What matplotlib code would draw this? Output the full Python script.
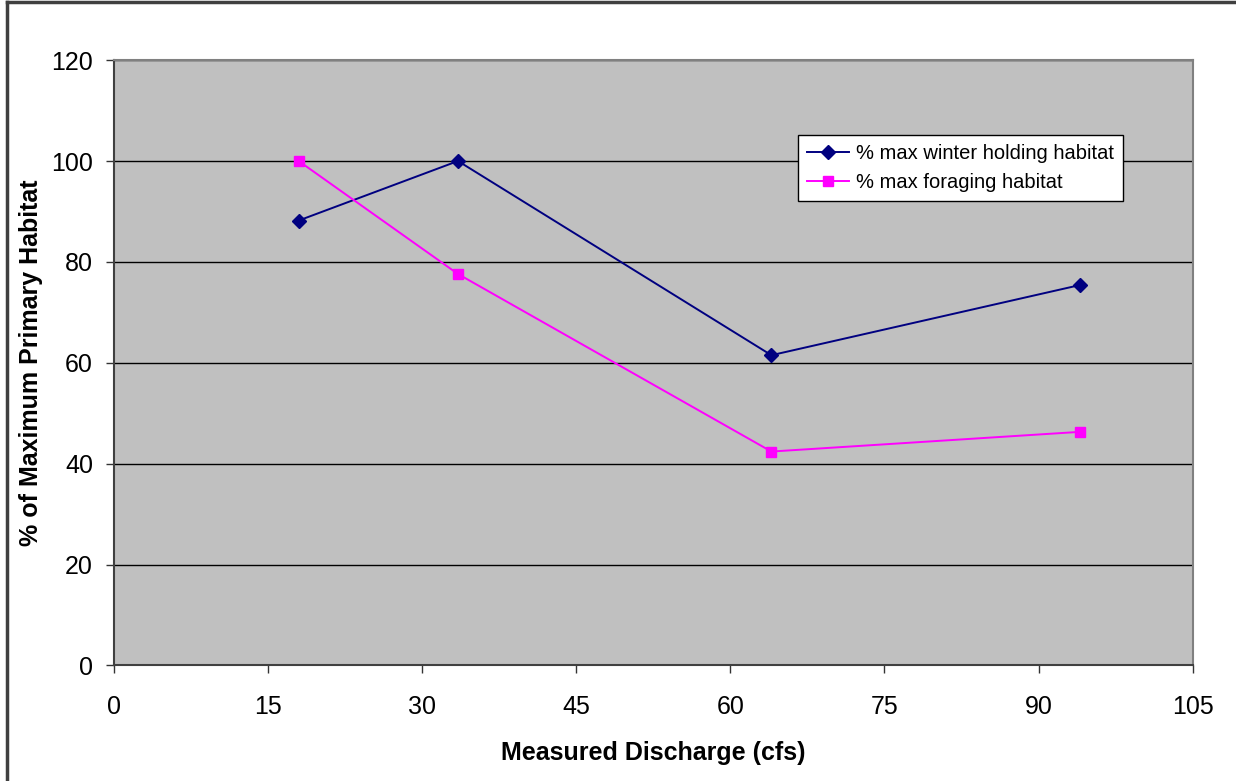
import matplotlib
matplotlib.use("Agg")
import matplotlib.pyplot as plt
from matplotlib.lines import Line2D

plt.rcParams['font.family'] = ['Liberation Sans', 'DejaVu Sans']

# Measured discharge (cfs) and habitat percentages
discharge = [18, 33.5, 64, 94]
winter_holding = [88.2, 100, 61.5, 75.4]
foraging = [100, 77.6, 42.4, 46.3]

series_labels = ['% max winter holding habitat', '% max foraging habitat']
x_ticks = [0, 15, 30, 45, 60, 75, 90, 105]
y_ticks = [0, 20, 40, 60, 80, 100, 120]

fig = plt.figure(figsize=(12.36, 7.81), dpi=100)
ax = fig.add_axes([0.092, 0.148, 0.873, 0.775])
ax.set_facecolor('#C0C0C0')

ax.plot(discharge, winter_holding, color='#000080', marker='D', markersize=7,
        linewidth=1.4, label=series_labels[0], zorder=3)
ax.plot(discharge, foraging, color='#FF00FF', marker='s', markersize=7.5,
        linewidth=1.4, label=series_labels[1], zorder=3)

ax.set_xlim(0, 105)
ax.set_ylim(0, 120)
ax.set_xticks(x_ticks)
ax.set_yticks(y_ticks)
ax.tick_params(axis='both', direction='out', length=6, width=1, color='#333333',
               labelsize=18)
ax.tick_params(axis='x', pad=15)
ax.tick_params(axis='y', pad=9)
ax.yaxis.grid(True, color='black', linewidth=1)
ax.set_axisbelow(True)

for side in ['top', 'right']:
    ax.spines[side].set_color('#808080')
    ax.spines[side].set_linewidth(1.5)
for side in ['left', 'bottom']:
    ax.spines[side].set_color('#404040')
    ax.spines[side].set_linewidth(1.5)

ax.set_xlabel('Measured Discharge (cfs)', fontsize=18, fontweight='bold', labelpad=16)
ax.set_ylabel('% of Maximum Primary Habitat', fontsize=18, fontweight='bold', labelpad=6)

leg = ax.legend(loc='upper left', bbox_to_anchor=(0.634, 0.877), borderaxespad=0,
                fancybox=False, framealpha=1, edgecolor='black', fontsize=14.5,
                handlelength=2.1, handletextpad=0.35, borderpad=0.45,
                labelspacing=0.5)
leg.get_frame().set_linewidth(1)

# outer chart frame
fig.add_artist(Line2D([0.006, 0.006], [0, 0.997], color='#404040', linewidth=2.5,
                      transform=fig.transFigure))
fig.add_artist(Line2D([0.006, 1], [0.997, 0.997], color='#404040', linewidth=2.5,
                      transform=fig.transFigure))

fig.savefig('out.png', dpi=100)
